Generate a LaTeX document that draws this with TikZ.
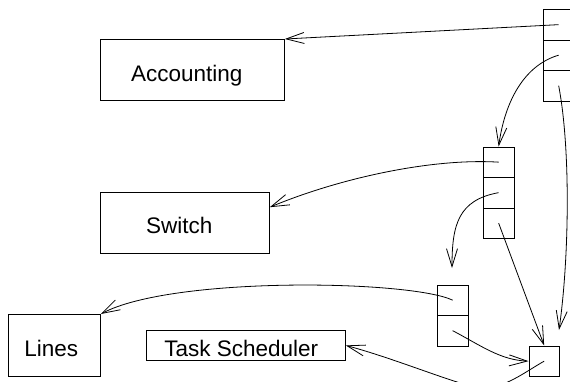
\documentclass[tikz,border=0pt]{standalone}
\usepackage{fontspec}
\setmainfont{Liberation Sans}
\usetikzlibrary{arrows.meta,calc}

\tikzset{
  wire/.style={line width=0.8pt},
  box/.style={draw, line width=0.8pt, rectangle, inner sep=0pt, anchor=north west},
  cell/.style={box, minimum width=30.5pt, minimum height=30.5pt},
  lbl/.style={inner sep=0pt, anchor=base, font=\fontsize{22.5}{27}\selectfont},
  ptr/.style={wire, -{Straight Barb[length=18pt,width=11pt]}}
}

\begin{document}
\begin{tikzpicture}[x=1pt, y=-1pt]
  \clip (0,0) rectangle (570,381);

  % process boxes
  \node[box, minimum width=184pt, minimum height=61pt] (acc) at (100,39) {};
  \node[box, minimum width=169pt, minimum height=61pt] (sw) at (100,192) {};
  \node[box, minimum width=92pt, minimum height=62pt] (lines) at (8,314) {};
  \node[box, minimum width=199pt, minimum height=30pt] (ts) at (146,330) {};

  \node[lbl] (accl) at (186.7,81) {Accounting};
  \node[lbl] (swl) at (179.2,233.3) {Switch};
  \node[lbl] (linesl) at (51.3,356.7) {Lines};
  \node[lbl] (tsl) at (241.3,356.7) {Task Scheduler};

  % top stack
  \node[cell] (t1) at (543,9) {};
  \node[cell] (t2) at (543,39.5) {};
  \node[cell] (t3) at (543,70) {};
  % middle stack
  \node[cell] (m1) at (483,146.5) {};
  \node[cell] (m2) at (483,177) {};
  \node[cell] (m3) at (483,207.5) {};
  % bottom stack
  \node[cell] (b1) at (437,284.5) {};
  \node[cell] (b2) at (437,315) {};
  % single cell
  \node[cell] (s) at (528.5,345.5) {};

  % loose pointer ends
  \coordinate (downend) at (452,268);
  \coordinate (sideend) at (559,330);

  % pointers
  \draw[ptr] (t1.center) -- (acc.north east);
  \draw[ptr] (t2.center) .. controls (525,65) and (505,100) .. (m1.north);
  \draw[ptr] (t3.center) .. controls (571,150) and (569,260) .. (sideend);

  \draw[ptr] (m1.center) .. controls (432,158) and (340,178) .. ($(sw.east)+(0pt,15.7pt)$);
  \draw[ptr] (m2.center) .. controls (458,200) and (452,225) .. (downend);
  \draw[ptr] (m3.center) -- (s.north);

  \draw[ptr] (b1.center) .. controls (410,280) and (172,276) .. (lines.north east);
  \draw[ptr] (b2.center) .. controls (480,345) and (500,360) .. (s.west);

  \draw[ptr] (s.center) .. controls (525,372) and (505,388) .. (483,388)
                        .. controls (465,388) and (400,360) .. (ts.east);
\end{tikzpicture}
\end{document}
